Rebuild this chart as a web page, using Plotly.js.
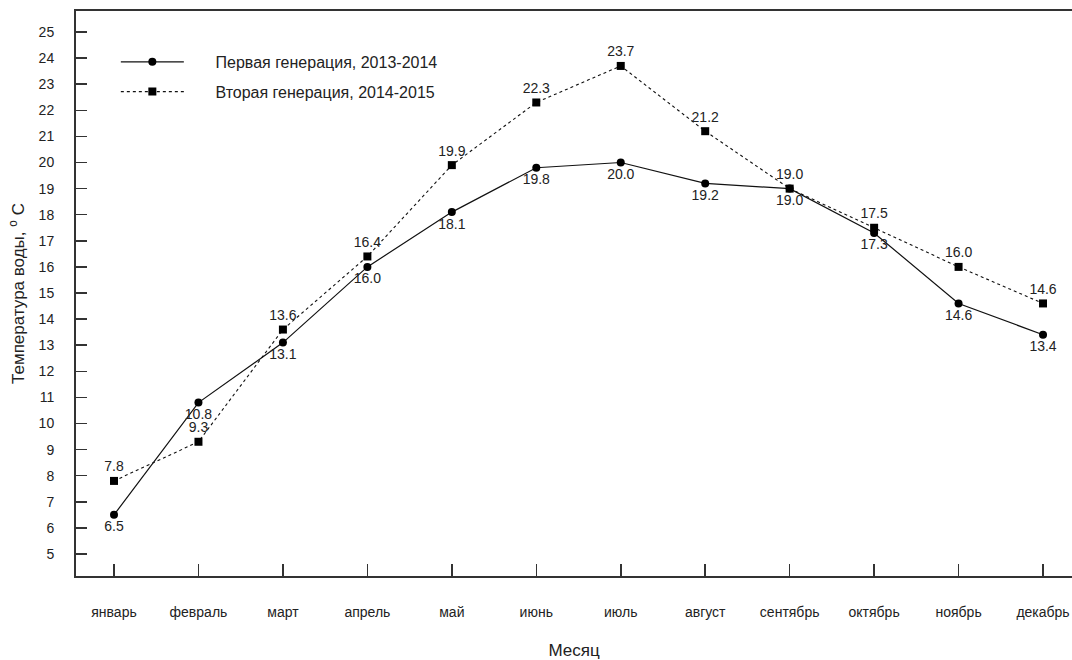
<!DOCTYPE html>
<html>
<head>
<meta charset="utf-8">
<script src="https://cdn.plot.ly/plotly-3.0.1.min.js"></script>
<style>
html,body{margin:0;padding:0;overflow:hidden;background:#fff;}
#chart{width:1072px;height:660px;}
</style>
</head>
<body>
<div id="chart"></div>
<script>
var months = ["январь","февраль","март","апрель","май","июнь","июль","август","сентябрь","октябрь","ноябрь","декабрь"];
var gen1 = [6.5, 10.8, 13.1, 16.0, 18.1, 19.8, 20.0, 19.2, 19.0, 17.3, 14.6, 13.4];
var gen2 = [7.8, 9.3, 13.6, 16.4, 19.9, 22.3, 23.7, 21.2, 19.0, 17.5, 16.0, 14.6];
var name1 = "Первая генерация, 2013-2014";
var name2 = "Вторая генерация, 2014-2015";
var yTicks = [5,6,7,8,9,10,11,12,13,14,15,16,17,18,19,20,21,22,23,24,25];

var FONT = "Liberation Sans, Arial, sans-serif";
var idx = months.map(function(_, i){ return i; });
var PAD = "\u00a0\u00a0\u00a0\u00a0\u00a0\u00a0";

var t1 = {
  x: idx, y: gen1, name: PAD + name1, legendgroup: "g1",
  type: "scatter", mode: "lines+markers+text",
  text: gen1.map(function(v){ return v.toFixed(1); }),
  textposition: "bottom center",
  textfont: {family: FONT, size: 14, color: "#222"},
  line: {color: "#111", width: 1.2, dash: "solid"},
  marker: {symbol: "circle", size: 8, color: "#000"},
  cliponaxis: false
};
var t2 = {
  x: idx, y: gen2, name: PAD + name2, legendgroup: "g2",
  type: "scatter", mode: "lines+markers+text",
  text: gen2.map(function(v){ return v.toFixed(1); }),
  textposition: "top center",
  textfont: {family: FONT, size: 14, color: "#222"},
  line: {color: "#111", width: 1.1, dash: "dot"},
  marker: {symbol: "square", size: 8, color: "#000"},
  cliponaxis: false
};

var layout = {
  width: 1072, height: 660,
  margin: {l: 76, r: 0, t: 11, b: 84},
  paper_bgcolor: "#fff", plot_bgcolor: "#fff",
  font: {family: FONT, size: 14, color: "#222"},
  showlegend: true,
  legend: {
    x: 0.04, y: 0.94, xanchor: "left", yanchor: "top",
    bgcolor: "rgba(0,0,0,0)", borderwidth: 0,
    font: {family: FONT, size: 16, color: "#222"},
    traceorder: "grouped", tracegroupgap: 6,
    itemwidth: 63
  },
  xaxis: {
    range: [-0.45, 11.343],
    tickmode: "array", tickvals: idx, ticktext: months,
    ticks: "inside", ticklen: 12, tickwidth: 1.5, tickcolor: "#333",
    showline: true, linecolor: "#333", linewidth: 2, mirror: true,
    showgrid: false, zeroline: false,
    tickfont: {family: FONT, size: 14, color: "#222"},
    ticklabelstandoff: 22,
    title: {text: "Месяц", font: {family: FONT, size: 17, color: "#222"}, standoff: 26}
  },
  yaxis: {
    range: [4.157, 25.805],
    tickmode: "array", tickvals: yTicks,
    ticks: "inside", ticklen: 11, tickwidth: 1.5, tickcolor: "#333",
    showline: true, linecolor: "#333", linewidth: 2, mirror: false,
    showgrid: false, zeroline: false,
    tickfont: {family: FONT, size: 14, color: "#222"},
    ticklabelstandoff: 17,
    title: {text: "Температура воды, <sup>o</sup> C", font: {family: FONT, size: 17, color: "#222"}, standoff: 10}
  }
};

Plotly.newPlot("chart", [t1, t2], layout, {displayModeBar: false, staticPlot: true});
</script>
</body>
</html>
